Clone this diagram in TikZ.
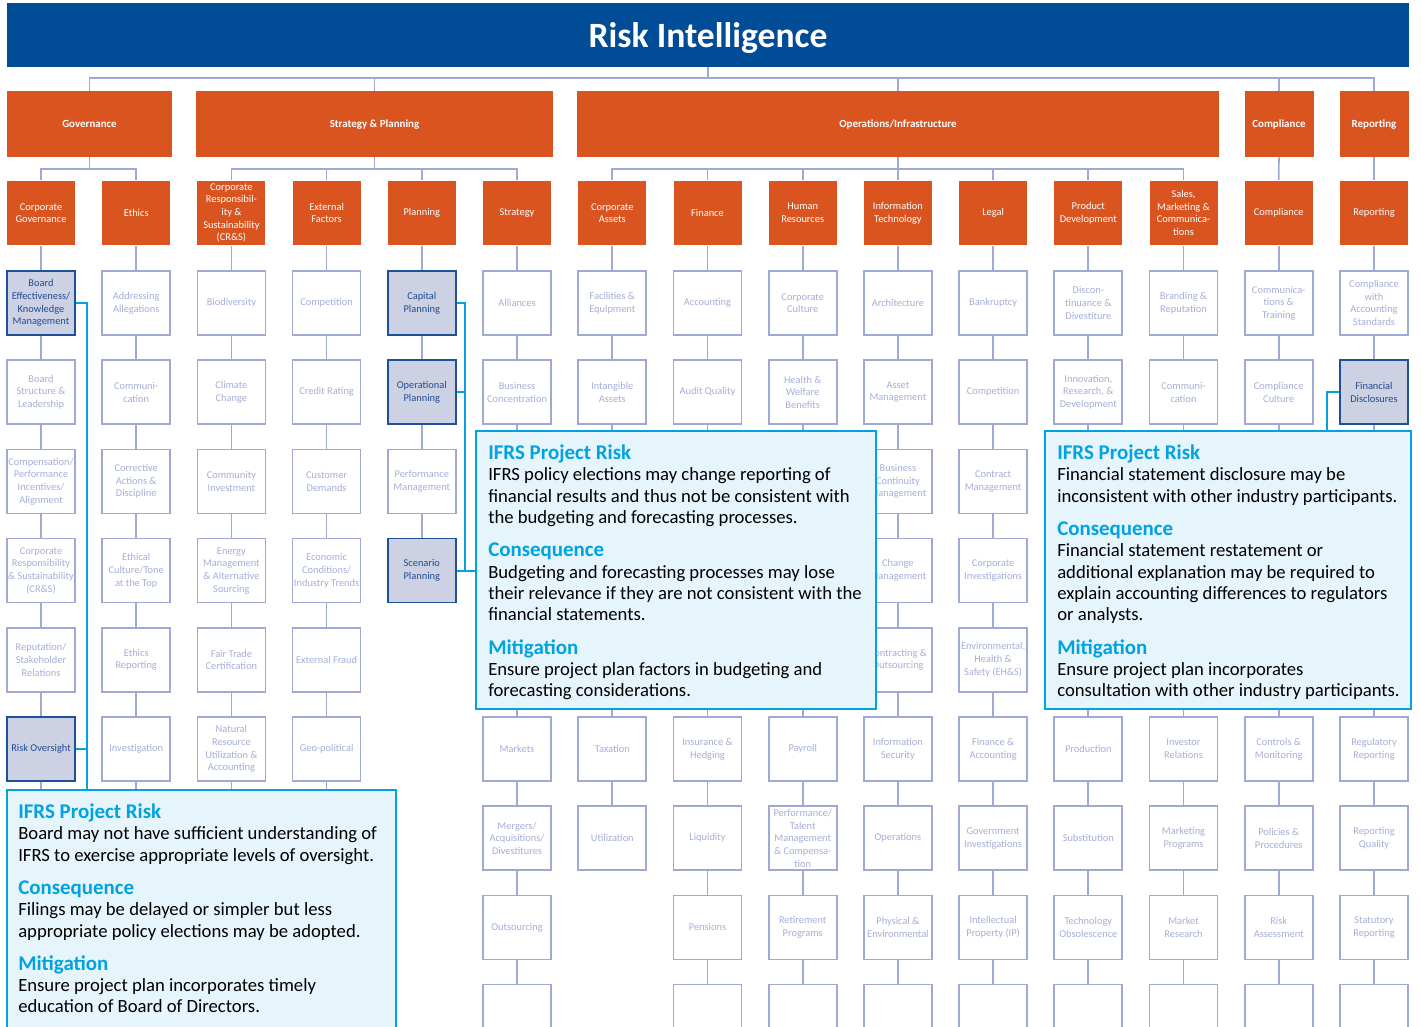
\documentclass[tikz,border=0pt]{standalone}
\usepackage{fontspec}
\setmainfont{Carlito}
\usetikzlibrary{positioning}

\definecolor{riskblue}{RGB}{0,76,151}
\definecolor{riskorange}{RGB}{218,84,32}
\definecolor{cellline}{RGB}{160,168,212}
\definecolor{celltext}{RGB}{166,174,216}
\definecolor{hlfill}{RGB}{204,209,228}
\definecolor{hlline}{RGB}{30,82,152}
\definecolor{hltext}{RGB}{35,75,145}
\definecolor{notefill}{RGB}{230,244,251}
\definecolor{notecyan}{RGB}{0,163,224}

\newcommand\notehead[1]{{\fontsize{15.7}{16}\selectfont\bfseries\color{notecyan}#1}}

\begin{document}
\begin{tikzpicture}[x=0.75pt,y=-0.75pt,
  cell/.style={draw=cellline,line width=1.3pt,fill=white,text=celltext,
    minimum width=51pt,minimum height=48pt,inner sep=0pt,align=center,
    font=\fontsize{7.8}{9.5}\selectfont},
  keycell/.style={cell,draw=hlline,fill=hlfill,text=hltext},
  headcell/.style={cell,draw=none,fill=riskorange,text=white},
  groupbar/.style={fill=riskorange,text=white,minimum height=49.5pt,inner sep=0pt,
    text depth=0pt,font=\fontsize{8.2}{10}\selectfont\bfseries},
  link/.style={draw=cellline,line width=1.3pt},
  tie/.style={draw=notecyan,line width=1.5pt},
  notebox/.style={draw=notecyan,fill=notefill,line width=1.5pt,inner sep=0pt,
    minimum height=208.5pt},
  notetext/.style={inner sep=0pt,align=left,font=\fontsize{14}{16}\selectfont}]

\useasboundingbox (0,0) rectangle (1421,1026);
\clip (0,0) rectangle (1421,1026);

% Column and row positions
\def\colA{41}    \def\colB{136.2}  \def\colC{231.4}  \def\colD{326.6}
\def\colE{421.8} \def\colF{517}    \def\colG{612.3}  \def\colH{707.5}
\def\colI{802.7} \def\colJ{897.9}  \def\colK{993.1}  \def\colL{1088.3}
\def\colM{1183.5} \def\colN{1278.7} \def\colO{1374}
\def\hrow{213}
\def\rowA{303}   \def\rowB{392.2}  \def\rowC{481.4}  \def\rowD{570.6}
\def\rowE{659.8} \def\rowF{749}    \def\rowG{838.2}  \def\rowH{927.4}
\def\rowI{1016.6}

% Title and groups
\node[fill=riskblue,text=white,minimum width=1051.5pt,minimum height=48pt,text depth=0pt,
  font=\fontsize{26.7}{30}\selectfont\bfseries] (title) at (708,35) {Risk Intelligence};

\node[groupbar,minimum width=123.75pt] (gov) at (89.5,124) {Governance};
\node[groupbar,minimum width=267.75pt] (stratplan) at (374.5,124) {Strategy \& Planning};
\node[groupbar,minimum width=481.5pt] (ops) at (898,124) {Operations/Infrastructure};
\node[groupbar,minimum width=51.75pt] (compgrp) at (1279,124) {Compliance};
\node[groupbar,minimum width=51.75pt] (repgrp) at (1374,124) {Reporting};

% Header cells
\node[headcell] (cgov) at (\colA,\hrow) {Corporate\\Governance};
\node[headcell] (ethics) at (\colB,\hrow) {Ethics};
\node[headcell] (csr) at (\colC,\hrow) {Corporate\\Responsibil-\\ity \&\\Sustainability\\(CR\&S)};
\node[headcell] (extf) at (\colD,\hrow) {External\\Factors};
\node[headcell] (plan) at (\colE,\hrow) {Planning};
\node[headcell] (strategy) at (\colF,\hrow) {Strategy};
\node[headcell] (cassets) at (\colG,\hrow) {Corporate\\Assets};
\node[headcell] (finance) at (\colH,\hrow) {Finance};
\node[headcell] (hr) at (\colI,\hrow) {Human\\Resources};
\node[headcell] (it) at (\colJ,\hrow) {Information\\Technology};
\node[headcell] (legal) at (\colK,\hrow) {Legal};
\node[headcell] (prod) at (\colL,\hrow) {Product\\Development};
\node[headcell] (sales) at (\colM,\hrow) {Sales,\\Marketing \&\\Communica-\\tions};
\node[headcell] (compl) at (\colN,\hrow) {Compliance};
\node[headcell] (report) at (\colO,\hrow) {Reporting};

% Corporate Governance
\node[keycell] (cgov1) at (\colA,\rowA) {Board\\Effectiveness/\\Knowledge\\Management};
\node[cell] (cgov2) at (\colA,\rowB) {Board\\Structure \&\\Leadership};
\node[cell] (cgov3) at (\colA,\rowC) {Compensation/\\Performance\\Incentives/\\Alignment};
\node[cell] (cgov4) at (\colA,\rowD) {Corporate\\Responsibility\\\& Sustainability\\(CR\&S)};
\node[cell] (cgov5) at (\colA,\rowE) {Reputation/\\Stakeholder\\Relations};
\node[keycell] (cgov6) at (\colA,\rowF) {Risk Oversight};

% Ethics
\node[cell] (ethics1) at (\colB,\rowA) {Addressing\\Allegations};
\node[cell] (ethics2) at (\colB,\rowB) {Communi-\\cation};
\node[cell] (ethics3) at (\colB,\rowC) {Corrective\\Actions \&\\Discipline};
\node[cell] (ethics4) at (\colB,\rowD) {Ethical\\Culture/Tone\\at the Top};
\node[cell] (ethics5) at (\colB,\rowE) {Ethics\\Reporting};
\node[cell] (ethics6) at (\colB,\rowF) {Investigation};

% CR&S
\node[cell] (csr1) at (\colC,\rowA) {Biodiversity};
\node[cell] (csr2) at (\colC,\rowB) {Climate\\Change};
\node[cell] (csr3) at (\colC,\rowC) {Community\\Investment};
\node[cell] (csr4) at (\colC,\rowD) {Energy\\Management\\\& Alternative\\Sourcing};
\node[cell] (csr5) at (\colC,\rowE) {Fair Trade\\Certification};
\node[cell] (csr6) at (\colC,\rowF) {Natural\\Resource\\Utilization \&\\Accounting};

% External Factors
\node[cell] (extf1) at (\colD,\rowA) {Competition};
\node[cell] (extf2) at (\colD,\rowB) {Credit Rating};
\node[cell] (extf3) at (\colD,\rowC) {Customer\\Demands};
\node[cell] (extf4) at (\colD,\rowD) {Economic\\Conditions/\\Industry Trends};
\node[cell] (extf5) at (\colD,\rowE) {External Fraud};
\node[cell] (extf6) at (\colD,\rowF) {Geo-political};

% Planning
\node[keycell] (plan1) at (\colE,\rowA) {Capital\\Planning};
\node[keycell] (plan2) at (\colE,\rowB) {Operational\\Planning};
\node[cell] (plan3) at (\colE,\rowC) {Performance\\Management};
\node[keycell] (plan4) at (\colE,\rowD) {Scenario\\Planning};

% Strategy
\node[cell] (strategy1) at (\colF,\rowA) {Alliances};
\node[cell] (strategy2) at (\colF,\rowB) {Business\\Concentration};
\node[cell] (strategy6) at (\colF,\rowF) {Markets};
\node[cell] (strategy7) at (\colF,\rowG) {Mergers/\\Acquisitions/\\Divestitures};
\node[cell] (strategy8) at (\colF,\rowH) {Outsourcing};
\node[cell] (strategy9) at (\colF,\rowI) {};

% Corporate Assets
\node[cell] (cassets1) at (\colG,\rowA) {Facilities \&\\Equipment};
\node[cell] (cassets2) at (\colG,\rowB) {Intangible\\Assets};
\node[cell] (cassets6) at (\colG,\rowF) {Taxation};
\node[cell] (cassets7) at (\colG,\rowG) {Utilization};

% Finance
\node[cell] (finance1) at (\colH,\rowA) {Accounting};
\node[cell] (finance2) at (\colH,\rowB) {Audit Quality};
\node[cell] (finance6) at (\colH,\rowF) {Insurance \&\\Hedging};
\node[cell] (finance7) at (\colH,\rowG) {Liquidity};
\node[cell] (finance8) at (\colH,\rowH) {Pensions};
\node[cell] (finance9) at (\colH,\rowI) {};

% Human Resources
\node[cell] (hr1) at (\colI,\rowA) {Corporate\\Culture};
\node[cell] (hr2) at (\colI,\rowB) {Health \&\\Welfare\\Benefits};
\node[cell] (hr6) at (\colI,\rowF) {Payroll};
\node[cell] (hr7) at (\colI,\rowG) {Performance/\\Talent\\Management\\\& Compensa-\\tion};
\node[cell] (hr8) at (\colI,\rowH) {Retirement\\Programs};
\node[cell] (hr9) at (\colI,\rowI) {};

% Information Technology
\node[cell] (it1) at (\colJ,\rowA) {Architecture};
\node[cell] (it2) at (\colJ,\rowB) {Asset\\Management};
\node[cell] (it3) at (\colJ,\rowC) {Business\\Continuity\\Management};
\node[cell] (it4) at (\colJ,\rowD) {Change\\Management};
\node[cell] (it5) at (\colJ,\rowE) {Contracting \&\\Outsourcing};
\node[cell] (it6) at (\colJ,\rowF) {Information\\Security};
\node[cell] (it7) at (\colJ,\rowG) {Operations};
\node[cell] (it8) at (\colJ,\rowH) {Physical \&\\Environmental};
\node[cell] (it9) at (\colJ,\rowI) {};

% Legal
\node[cell] (legal1) at (\colK,\rowA) {Bankruptcy};
\node[cell] (legal2) at (\colK,\rowB) {Competition};
\node[cell] (legal3) at (\colK,\rowC) {Contract\\Management};
\node[cell] (legal4) at (\colK,\rowD) {Corporate\\Investigations};
\node[cell] (legal5) at (\colK,\rowE) {Environmental,\\Health \&\\Safety (EH\&S)};
\node[cell] (legal6) at (\colK,\rowF) {Finance \&\\Accounting};
\node[cell] (legal7) at (\colK,\rowG) {Government\\Investigations};
\node[cell] (legal8) at (\colK,\rowH) {Intellectual\\Property (IP)};
\node[cell] (legal9) at (\colK,\rowI) {};

% Product Development
\node[cell] (prod1) at (\colL,\rowA) {Discon-\\tinuance \&\\Divestiture};
\node[cell] (prod2) at (\colL,\rowB) {Innovation,\\Research, \&\\Development};
\node[cell] (prod6) at (\colL,\rowF) {Production};
\node[cell] (prod7) at (\colL,\rowG) {Substitution};
\node[cell] (prod8) at (\colL,\rowH) {Technology\\Obsolescence};
\node[cell] (prod9) at (\colL,\rowI) {};

% Sales, Marketing & Communications
\node[cell] (sales1) at (\colM,\rowA) {Branding \&\\Reputation};
\node[cell] (sales2) at (\colM,\rowB) {Communi-\\cation};
\node[cell] (sales6) at (\colM,\rowF) {Investor\\Relations};
\node[cell] (sales7) at (\colM,\rowG) {Marketing\\Programs};
\node[cell] (sales8) at (\colM,\rowH) {Market\\Research};
\node[cell] (sales9) at (\colM,\rowI) {};

% Compliance
\node[cell] (compl1) at (\colN,\rowA) {Communica-\\tions \&\\Training};
\node[cell] (compl2) at (\colN,\rowB) {Compliance\\Culture};
\node[cell] (compl6) at (\colN,\rowF) {Controls \&\\Monitoring};
\node[cell] (compl7) at (\colN,\rowG) {Policies \&\\Procedures};
\node[cell] (compl8) at (\colN,\rowH) {Risk\\Assessment};
\node[cell] (compl9) at (\colN,\rowI) {};

% Reporting
\node[cell] (report1) at (\colO,\rowA) {Compliance\\with\\Accounting\\Standards};
\node[keycell] (report2) at (\colO,\rowB) {Financial\\Disclosures};
\node[cell] (report6) at (\colO,\rowF) {Regulatory\\Reporting};
\node[cell] (report7) at (\colO,\rowG) {Reporting\\Quality};
\node[cell] (report8) at (\colO,\rowH) {Statutory\\Reporting};
\node[cell] (report9) at (\colO,\rowI) {};

% Tree lines
\coordinate (topbus) at (708,78);
\draw[link] (title) -- (topbus);
\draw[link] (gov.north) |- (topbus) -| (repgrp.north);
\draw[link] (stratplan.north) -- (stratplan.north |- topbus);
\draw[link] (ops.north) -- (ops.north |- topbus);
\draw[link] (compgrp.north) -- (compgrp.north |- topbus);

\coordinate (govbus) at (89.5,169);
\draw[link] (gov) -- (govbus);
\draw[link] (cgov.north) |- (govbus) -| (ethics.north);
\coordinate (spbus) at (374.5,169);
\draw[link] (stratplan) -- (spbus);
\draw[link] (csr.north) |- (spbus) -| (strategy.north);
\draw[link] (extf.north) -- (extf.north |- spbus);
\draw[link] (plan.north) -- (plan.north |- spbus);
\coordinate (opsbus) at (898,169);
\draw[link] (ops) -- (opsbus);
\draw[link] (cassets.north) |- (opsbus) -| (sales.north);
\draw[link] (finance.north) -- (finance.north |- opsbus);
\draw[link] (hr.north) -- (hr.north |- opsbus);
\draw[link] (it.north) -- (it.north |- opsbus);
\draw[link] (legal.north) -- (legal.north |- opsbus);
\draw[link] (prod.north) -- (prod.north |- opsbus);
\draw[link] (compgrp) -- (compl);
\draw[link] (repgrp) -- (report);

% Column lines
\draw[link] (cgov) -- (cgov1) -- (cgov2) -- (cgov3) -- (cgov4) -- (cgov5) -- (cgov6) -- ++(0,-30pt);
\draw[link] (ethics) -- (ethics1) -- (ethics2) -- (ethics3) -- (ethics4) -- (ethics5) -- (ethics6) -- ++(0,-30pt);
\draw[link] (csr) -- (csr1) -- (csr2) -- (csr3) -- (csr4) -- (csr5) -- (csr6) -- ++(0,-30pt);
\draw[link] (extf) -- (extf1) -- (extf2) -- (extf3) -- (extf4) -- (extf5) -- (extf6) -- ++(0,-30pt);
\draw[link] (plan) -- (plan1) -- (plan2) -- (plan3) -- (plan4);
\draw[link] (strategy) -- (strategy1) -- (strategy2) -- (strategy6) -- (strategy7) -- (strategy8) -- (strategy9);
\draw[link] (cassets) -- (cassets1) -- (cassets2) -- (cassets6) -- (cassets7);
\draw[link] (finance) -- (finance1) -- (finance2) -- (finance6) -- (finance7) -- (finance8) -- (finance9);
\draw[link] (hr) -- (hr1) -- (hr2) -- (hr6) -- (hr7) -- (hr8) -- (hr9);
\draw[link] (it) -- (it1) -- (it2) -- (it3) -- (it4) -- (it5) -- (it6) -- (it7) -- (it8) -- (it9);
\draw[link] (legal) -- (legal1) -- (legal2) -- (legal3) -- (legal4) -- (legal5) -- (legal6) -- (legal7) -- (legal8) -- (legal9);
\draw[link] (prod) -- (prod1) -- (prod2) -- (prod6) -- (prod7) -- (prod8) -- (prod9);
\draw[link] (sales) -- (sales1) -- (sales2) -- (sales6) -- (sales7) -- (sales8) -- (sales9);
\draw[link] (compl) -- (compl1) -- (compl2) -- (compl6) -- (compl7) -- (compl8) -- (compl9);
\draw[link] (report) -- (report1) -- (report2) -- (report6) -- (report7) -- (report8) -- (report9);

% Risk notes
\node[notebox,minimum width=291.75pt,minimum height=187.5pt] (govnote) at (201.5,915) {};
\node[notebox,minimum width=300pt] (plannote) at (676,570) {};
\node[notebox,minimum width=274.5pt] (repnote) at (1228,570) {};

\coordinate (govtie) at (87,790);
\draw[tie] (cgov1.east) -| (govtie);
\draw[tie] (cgov6.east) -- (cgov6.east -| govtie);
\coordinate (plantie) at (465,570.6);
\draw[tie] (plan1.east) -| (plantie);
\draw[tie] (plan2.east) -- (plan2.east -| plantie);
\draw[tie] (plan4.east) -- (plan4.east -| plannote.west);
\coordinate (reptie) at (1327,431);
\draw[tie] (report2.west) -| (reptie);

\node[notetext,below right=11pt and 9pt of govnote.north west] (govrisk) {%
\notehead{IFRS Project Risk}\\
Board may not have sufficient understanding of\\
IFRS to exercise appropriate levels of oversight.\\[8.8pt]
\notehead{Consequence}\\
Filings may be delayed or simpler but less\\
appropriate policy elections may be adopted.\\[8.8pt]
\notehead{Mitigation}\\
Ensure project plan incorporates timely\\
education of Board of Directors.};

\node[notetext,below right=11pt and 9.75pt of plannote.north west] (planrisk) {%
\notehead{IFRS Project Risk}\\
IFRS policy elections may change reporting of\\
financial results and thus not be consistent with\\
the budgeting and forecasting processes.\\[9pt]
\notehead{Consequence}\\
Budgeting and forecasting processes may lose\\
their relevance if they are not consistent with the\\
financial statements.\\[9pt]
\notehead{Mitigation}\\
Ensure project plan factors in budgeting and\\
forecasting considerations.};

\node[notetext,below right=11pt and 9.75pt of repnote.north west] (reprisk) {%
\notehead{IFRS Project Risk}\\
Financial statement disclosure may be\\
inconsistent with other industry participants.\\[9pt]
\notehead{Consequence}\\
Financial statement restatement or\\
additional explanation may be required to\\
explain accounting differences to regulators\\
or analysts.\\[9pt]
\notehead{Mitigation}\\
Ensure project plan incorporates\\
consultation with other industry participants.};

\end{tikzpicture}
\end{document}
